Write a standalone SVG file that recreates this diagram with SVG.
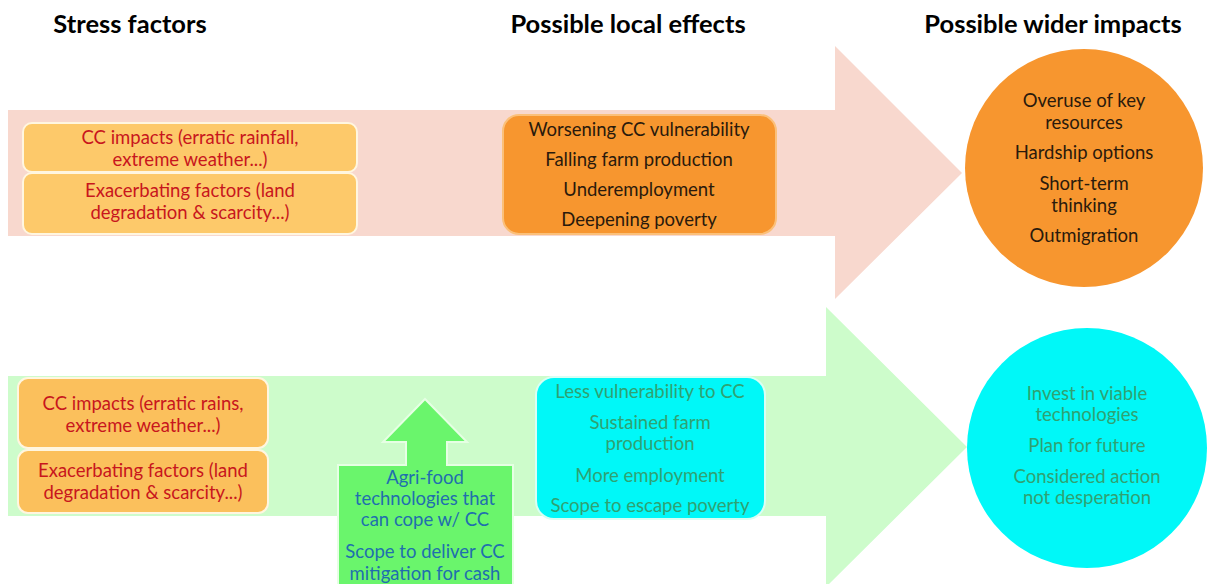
<svg xmlns="http://www.w3.org/2000/svg" width="1208" height="584" viewBox="0 0 1208 584">
  <style>
    text { font-family: Lato, "Open Sans", "Liberation Sans", sans-serif; text-anchor: middle; }
    .hdr { font-size: 25.5px; font-weight: bold; fill: #000; }
    .t { font-size: 18.5px; }
    .red { fill: #c8161d; }
    .dark { fill: #2a1a0c; }
    .teal { fill: #2fa272; }
    .blue { fill: #1f6fae; }
    .factor { fill: #fdc96a; stroke: #fff6e0; stroke-width: 2; }
    .factor2 { fill: #fbc05c; stroke: #fff6e0; stroke-width: 2; }
  </style>

  <rect width="1208" height="584" fill="#ffffff"/>

  <!-- column headings -->
  <g id="headings">
    <text class="hdr" x="130" y="33">Stress factors</text>
    <text class="hdr" x="628" y="33">Possible local effects</text>
    <text class="hdr" x="1053" y="33">Possible wider impacts</text>
  </g>

  <!-- big background arrows -->
  <g id="connectors">
    <polygon id="arrow-stress" points="8,110 835,110 835,46 962,173 835,299 835,236 8,236" fill="#f8d8ce"/>
    <polygon id="arrow-resilience" points="8,376 826,376 826,307 967,447 826,587 826,516 8,516" fill="#cdfccb"/>
  </g>

  <!-- upper row: stress pathway -->
  <g id="cc-impacts-top">
    <rect class="factor" x="23" y="123" width="334" height="49" rx="9"/>
    <text class="t red" x="190" y="144">CC impacts (erratic rainfall,</text>
    <text class="t red" x="190" y="166">extreme weather...)</text>
  </g>
  <g id="exacerbating-top">
    <rect class="factor" x="23" y="173" width="334" height="61" rx="9"/>
    <text class="t red" x="190" y="197">Exacerbating factors (land</text>
    <text class="t red" x="190" y="219">degradation &amp; scarcity...)</text>
  </g>
  <g id="local-effects-top">
    <rect x="503" y="115" width="273" height="119" rx="16" fill="#f7962f" stroke="#fbc07a" stroke-width="2"/>
    <text class="t dark" x="639" y="136">Worsening CC vulnerability</text>
    <text class="t dark" x="639" y="166">Falling farm production</text>
    <text class="t dark" x="639" y="196">Underemployment</text>
    <text class="t dark" x="639" y="226">Deepening poverty</text>
  </g>
  <g id="wider-impacts-top">
    <circle cx="1084" cy="168" r="119" fill="#f7962f"/>
    <text class="t dark" x="1084" y="107">Overuse of key</text>
    <text class="t dark" x="1084" y="129">resources</text>
    <text class="t dark" x="1084" y="159">Hardship options</text>
    <text class="t dark" x="1084" y="190">Short-term</text>
    <text class="t dark" x="1084" y="212">thinking</text>
    <text class="t dark" x="1084" y="242">Outmigration</text>
  </g>

  <!-- lower row: resilience pathway -->
  <g id="cc-impacts-bottom">
    <rect class="factor2" x="18" y="378" width="250" height="70" rx="10"/>
    <text class="t red" x="143" y="410">CC impacts (erratic rains,</text>
    <text class="t red" x="143" y="432">extreme weather...)</text>
  </g>
  <g id="exacerbating-bottom">
    <rect class="factor2" x="18" y="450" width="250" height="63" rx="10"/>
    <text class="t red" x="143" y="477">Exacerbating factors (land</text>
    <text class="t red" x="143" y="499">degradation &amp; scarcity...)</text>
  </g>
  <g id="agrifood-technologies">
    <polygon points="425,399 467,442 447,442 447,465 513,465 513,586 338,586 338,465 406,465 406,442 383,442" fill="#6af56c" stroke="#e6ffe4" stroke-width="2"/>
    <text class="t blue" x="425" y="484">Agri-food</text>
    <text class="t blue" x="425" y="505">technologies that</text>
    <text class="t blue" x="425" y="526">can cope w/ CC</text>
    <text class="t blue" x="425" y="558">Scope to deliver CC</text>
    <text class="t blue" x="425" y="580">mitigation for cash</text>
  </g>
  <g id="local-effects-bottom">
    <rect x="536" y="377" width="229" height="142" rx="18" fill="#00f8f8" stroke="#d8fff4" stroke-width="2"/>
    <text class="t teal" x="650" y="398">Less vulnerability to CC</text>
    <text class="t teal" x="650" y="429">Sustained farm</text>
    <text class="t teal" x="650" y="450">production</text>
    <text class="t teal" x="650" y="482">More employment</text>
    <text class="t teal" x="650" y="512">Scope to escape poverty</text>
  </g>
  <g id="wider-impacts-bottom">
    <circle cx="1087" cy="448" r="120" fill="#00f8f8"/>
    <text class="t teal" x="1087" y="400">Invest in viable</text>
    <text class="t teal" x="1087" y="421">technologies</text>
    <text class="t teal" x="1087" y="452">Plan for future</text>
    <text class="t teal" x="1087" y="483">Considered action</text>
    <text class="t teal" x="1087" y="504">not desperation</text>
  </g>
</svg>
